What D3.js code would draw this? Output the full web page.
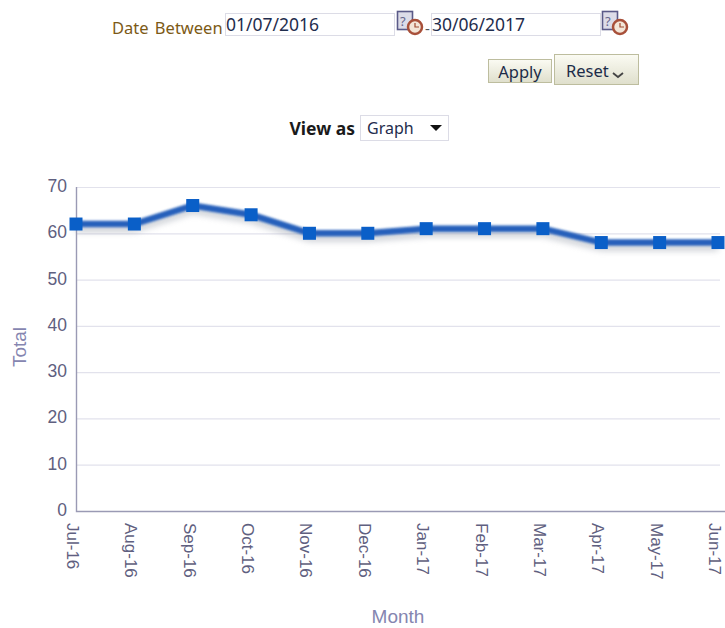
<!DOCTYPE html>
<html lang="en">
<head>
    <meta charset="UTF-8">
    <title>Total by Month</title>
    <script src="https://d3js.org/d3.v7.min.js"></script>
    <style>
        html, body { margin: 0; padding: 0; background: #fff; }
        svg { display: block; }
        .ctl { font-family: "Noto Sans", sans-serif; }
        .tick-label { font-family: "Liberation Sans", sans-serif; fill: #5f6080; }
    </style>
</head>
<body>
<div id="chart"></div>
<script>
    // Data
    const months = ['Jul-16', 'Aug-16', 'Sep-16', 'Oct-16', 'Nov-16', 'Dec-16',
        'Jan-17', 'Feb-17', 'Mar-17', 'Apr-17', 'May-17', 'Jun-17'];
    const totals = [62, 62, 66, 64, 60, 60, 61, 61, 61, 58, 58, 58];
    const yTicks = [0, 10, 20, 30, 40, 50, 60, 70];

    const width = 725;
    const height = 628;

    const svg = d3.select('#chart').append('svg')
        .attr('width', width)
        .attr('height', height);

    const defs = svg.append('defs');
    defs.append('filter').attr('id', 'shadow')
        .attr('x', '-5%').attr('y', '-100%').attr('width', '110%').attr('height', '300%')
        .append('feGaussianBlur').attr('stdDeviation', 3);
    defs.append('filter').attr('id', 'soft')
        .attr('x', '-5%').attr('y', '-100%').attr('width', '110%').attr('height', '300%')
        .append('feGaussianBlur').attr('stdDeviation', 1);
    const btn = defs.append('linearGradient').attr('id', 'btn')
        .attr('x1', 0).attr('y1', 0).attr('x2', 0).attr('y2', 1);
    btn.append('stop').attr('offset', '0%').attr('stop-color', '#fbfbf3');
    btn.append('stop').attr('offset', '100%').attr('stop-color', '#dfdfcc');

    // Scales
    const xScale = d3.scalePoint()
        .domain(months)
        .range([76, 718]);

    const yScale = d3.scaleLinear()
        .domain([0, 70])
        .range([511, 187]);

    // Grid lines
    svg.append('g')
        .selectAll('line')
        .data(yTicks.filter(d => d > 0))
        .enter().append('line')
        .attr('x1', 76)
        .attr('x2', 720)
        .attr('y1', d => yScale(d) + 0.5)
        .attr('y2', d => yScale(d) + 0.5)
        .attr('stroke', '#e2e2ec')
        .attr('stroke-width', 1.2);

    // Axis lines
    svg.append('path')
        .attr('d', 'M76.5,187V511.5H725')
        .attr('fill', 'none')
        .attr('stroke', '#9a9ab4')
        .attr('stroke-width', 1.4);

    // Y tick labels
    svg.append('g')
        .selectAll('text')
        .data(yTicks)
        .enter().append('text')
        .attr('class', 'tick-label')
        .attr('x', 67)
        .attr('y', d => yScale(d) + 5)
        .attr('text-anchor', 'end')
        .style('font-size', '17.5px')
        .text(d => d);

    // X tick labels, rotated to read downwards
    svg.append('g')
        .selectAll('text')
        .data(months)
        .enter().append('text')
        .attr('class', 'tick-label')
        .attr('transform', d => `translate(${xScale(d) - 9},523) rotate(90)`)
        .style('font-size', '17px')
        .text(d => d);

    // Axis titles
    svg.append('text')
        .attr('transform', 'translate(26,347) rotate(-90)')
        .attr('text-anchor', 'middle')
        .style('font-family', '"Liberation Sans", sans-serif')
        .style('font-size', '19px')
        .style('fill', '#8585b0')
        .text('Total');

    svg.append('text')
        .attr('x', 398)
        .attr('y', 623)
        .attr('text-anchor', 'middle')
        .style('font-family', '"Liberation Sans", sans-serif')
        .style('font-size', '19px')
        .style('fill', '#8585b0')
        .text('Month');

    // Line with shadow
    const line = d3.line()
        .x((d, i) => xScale(months[i]))
        .y(d => yScale(d));

    svg.append('path')
        .datum(totals)
        .attr('d', line)
        .attr('transform', 'translate(0,5)')
        .attr('fill', 'none')
        .attr('stroke', '#9aa0ac')
        .attr('stroke-width', 6)
        .attr('opacity', 0.55)
        .attr('filter', 'url(#shadow)');

    svg.append('path')
        .datum(totals)
        .attr('d', line)
        .attr('fill', 'none')
        .attr('stroke', '#2560bb')
        .attr('stroke-width', 6.5)
        .attr('filter', 'url(#soft)');

    // Markers
    svg.append('g')
        .selectAll('rect')
        .data(totals)
        .enter().append('rect')
        .attr('x', (d, i) => xScale(months[i]) - 6.5)
        .attr('y', d => yScale(d) - 6.5)
        .attr('width', 13)
        .attr('height', 13)
        .attr('fill', '#0a5fc8');

    // Filter controls above the chart
    const controls = svg.append('g').attr('class', 'ctl');

    controls.append('text')
        .attr('x', 112).attr('y', 34)
        .style('font-size', '16.5px')
        .style('fill', '#7c5a16')
        .style('word-spacing', '2px')
        .text('Date Between');

    function dateBox(x, w, value) {
        controls.append('rect')
            .attr('x', x + 0.5).attr('y', 13.5)
            .attr('width', w).attr('height', 22)
            .attr('fill', '#fff')
            .attr('stroke', '#dcdce6');
        controls.append('text')
            .attr('x', x + 1).attr('y', 31)
            .style('font-size', '17.5px')
            .style('fill', '#1f2d4d')
            .text(value);
    }
    dateBox(225, 169, '01/07/2016');
    dateBox(431, 169, '30/06/2017');

    function calendarIcon(x) {
        const g = controls.append('g').attr('transform', `translate(${x},10)`);
        g.append('rect').attr('x', 0.5).attr('y', 1.5).attr('width', 15).attr('height', 18)
            .attr('fill', '#dcdce8').attr('stroke', '#5a5a88').attr('stroke-width', 1.6);
        g.append('text').attr('x', 3).attr('y', 16)
            .style('font-size', '13px').style('fill', '#66668c').text('?');
        g.append('circle').attr('cx', 18).attr('cy', 17).attr('r', 7)
            .attr('fill', '#f3e6d8').attr('stroke', '#a8503a').attr('stroke-width', 2.5);
        g.append('path').attr('d', 'M18,13V17H22').attr('fill', 'none')
            .attr('stroke', '#a04a30').attr('stroke-width', 1.2);
    }
    calendarIcon(397);
    calendarIcon(602);

    controls.append('text')
        .attr('x', 425).attr('y', 34)
        .style('font-size', '15px').style('fill', '#555')
        .text('-');

    // Buttons
    controls.append('rect')
        .attr('x', 488.5).attr('y', 59.5).attr('width', 63).attr('height', 23)
        .attr('fill', 'url(#btn)').attr('stroke', '#bdbd9e');
    controls.append('text')
        .attr('x', 520).attr('y', 78).attr('text-anchor', 'middle')
        .style('font-size', '16.5px').style('fill', '#1c2c48')
        .text('Apply');

    controls.append('rect')
        .attr('x', 554.5).attr('y', 54.5).attr('width', 84).attr('height', 30)
        .attr('fill', 'url(#btn)').attr('stroke', '#bdbd9e');
    controls.append('text')
        .attr('x', 566).attr('y', 77)
        .style('font-size', '16.5px').style('fill', '#1c2c48')
        .text('Reset');
    controls.append('path')
        .attr('d', 'M613,73L618,77L623,73')
        .attr('fill', 'none').attr('stroke', '#444').attr('stroke-width', 1.8);

    // View as selector
    controls.append('text')
        .attr('x', 355).attr('y', 135).attr('text-anchor', 'end')
        .style('font-size', '17.5px').style('font-weight', 'bold').style('fill', '#1a1a1a')
        .text('View as');
    controls.append('rect')
        .attr('x', 360.5).attr('y', 115.5).attr('width', 88).attr('height', 25)
        .attr('fill', '#fff').attr('stroke', '#dcdce6');
    controls.append('text')
        .attr('x', 367).attr('y', 134)
        .style('font-size', '16px').style('fill', '#1f2d4d')
        .text('Graph');
    controls.append('path')
        .attr('d', 'M430,125H442L436,131Z')
        .attr('fill', '#111');
</script>
</body>
</html>
